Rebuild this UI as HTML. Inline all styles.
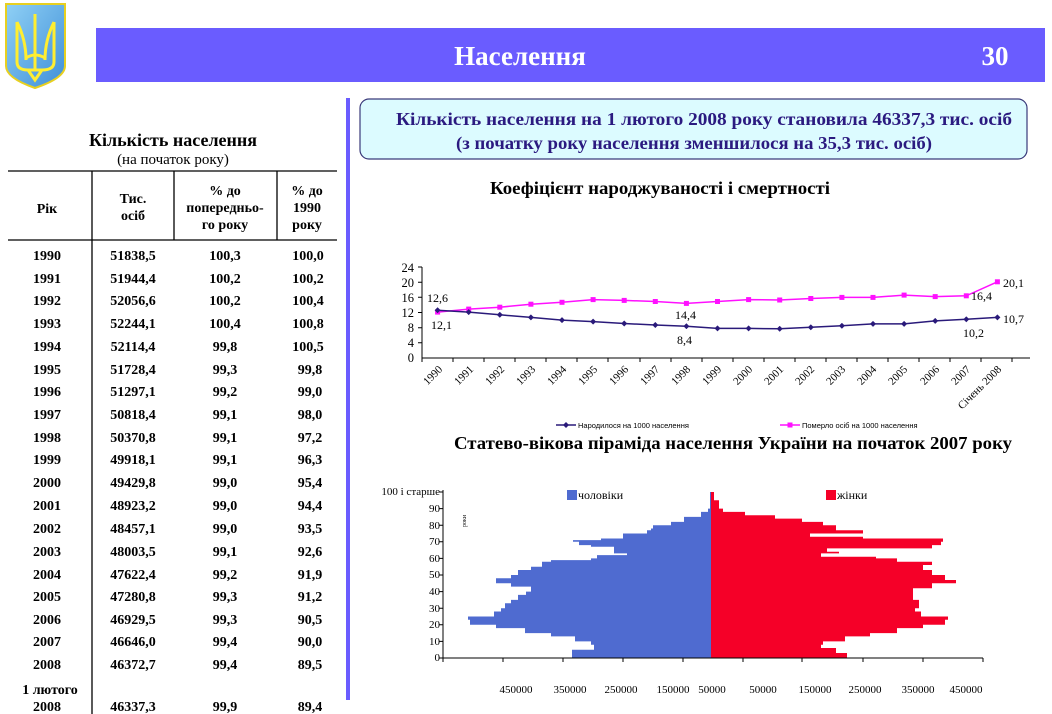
<!DOCTYPE html>
<html><head><meta charset="utf-8"><style>
html,body{margin:0;padding:0;background:#fff}
svg{display:block}
text{font-family:"Liberation Serif",serif}
</style></head><body>
<svg width="1052" height="714" viewBox="0 0 1052 714" xmlns="http://www.w3.org/2000/svg">
<defs>
<linearGradient id="sh" x1="0" y1="0" x2="1" y2="1"><stop offset="0" stop-color="#8fd0f5"/><stop offset="1" stop-color="#3f8fd8"/></linearGradient>
<marker id="md" markerWidth="6" markerHeight="6" refX="3" refY="3" markerUnits="userSpaceOnUse"><path d="M3 0L6 3L3 6L0 3Z" fill="#2a1a7a"/></marker>
<marker id="mp" markerWidth="6" markerHeight="6" refX="3" refY="3" markerUnits="userSpaceOnUse"><rect x="0.5" y="0.5" width="5" height="5" fill="#ff10ff"/></marker>
</defs>
<path d="M6 4H65V66Q65 78 35 88Q6 78 6 66Z" fill="url(#sh)" stroke="#e8d020" stroke-width="2"/>
<g fill="none" stroke="#ffee30" stroke-width="3">
<path d="M35 14V70"/><path d="M17 22V62Q17 70 28 70H42Q54 70 54 62V22"/><path d="M17 22Q26 40 26 60"/><path d="M54 22Q45 40 45 60"/><path d="M28 70L35 80L42 70"/><path d="M26 58Q35 52 45 58"/>
</g>
<rect x="96" y="28" width="949" height="54" fill="#6a5cff"/>
<text x="520" y="65" font-size="27" font-weight="bold" fill="#fff" text-anchor="middle">Населення</text>
<text x="995" y="65" font-size="27" font-weight="bold" fill="#fff" text-anchor="middle">30</text>
<rect x="346" y="98" width="4" height="602" fill="#6a5cff"/>
<text x="173" y="146" font-size="18" font-weight="bold" text-anchor="middle">Кількість населення</text>
<text x="173" y="164" font-size="15" text-anchor="middle">(на початок року)</text>
<g stroke="#000" stroke-width="1.3">
<line x1="8" y1="171" x2="337" y2="171"/><line x1="8" y1="240" x2="337" y2="240"/>
<line x1="92" y1="171" x2="92" y2="714"/><line x1="174" y1="171" x2="174" y2="240"/><line x1="277" y1="171" x2="277" y2="240"/>
</g>
<g font-size="14" font-weight="bold" text-anchor="middle">
<text x="47" y="213">Рік</text>
<text x="133" y="203">Тис.</text><text x="133" y="220">осіб</text>
<text x="225" y="195">% до</text><text x="225" y="212">попередньо-</text><text x="225" y="229">го року</text>
<text x="307" y="195">% до</text><text x="307" y="212">1990</text><text x="307" y="229">року</text>
</g>
<g font-size="14" font-weight="bold" text-anchor="middle">
<text y="260"><tspan x="47">1990</tspan><tspan x="133">51838,5</tspan><tspan x="225">100,3</tspan><tspan x="308">100,0</tspan></text>
<text y="283"><tspan x="47">1991</tspan><tspan x="133">51944,4</tspan><tspan x="225">100,2</tspan><tspan x="308">100,2</tspan></text>
<text y="305"><tspan x="47">1992</tspan><tspan x="133">52056,6</tspan><tspan x="225">100,2</tspan><tspan x="308">100,4</tspan></text>
<text y="328"><tspan x="47">1993</tspan><tspan x="133">52244,1</tspan><tspan x="225">100,4</tspan><tspan x="308">100,8</tspan></text>
<text y="351"><tspan x="47">1994</tspan><tspan x="133">52114,4</tspan><tspan x="225">99,8</tspan><tspan x="308">100,5</tspan></text>
<text y="374"><tspan x="47">1995</tspan><tspan x="133">51728,4</tspan><tspan x="225">99,3</tspan><tspan x="310">99,8</tspan></text>
<text y="396"><tspan x="47">1996</tspan><tspan x="133">51297,1</tspan><tspan x="225">99,2</tspan><tspan x="310">99,0</tspan></text>
<text y="419"><tspan x="47">1997</tspan><tspan x="133">50818,4</tspan><tspan x="225">99,1</tspan><tspan x="310">98,0</tspan></text>
<text y="442"><tspan x="47">1998</tspan><tspan x="133">50370,8</tspan><tspan x="225">99,1</tspan><tspan x="310">97,2</tspan></text>
<text y="464"><tspan x="47">1999</tspan><tspan x="133">49918,1</tspan><tspan x="225">99,1</tspan><tspan x="310">96,3</tspan></text>
<text y="487"><tspan x="47">2000</tspan><tspan x="133">49429,8</tspan><tspan x="225">99,0</tspan><tspan x="310">95,4</tspan></text>
<text y="510"><tspan x="47">2001</tspan><tspan x="133">48923,2</tspan><tspan x="225">99,0</tspan><tspan x="310">94,4</tspan></text>
<text y="533"><tspan x="47">2002</tspan><tspan x="133">48457,1</tspan><tspan x="225">99,0</tspan><tspan x="310">93,5</tspan></text>
<text y="556"><tspan x="47">2003</tspan><tspan x="133">48003,5</tspan><tspan x="225">99,1</tspan><tspan x="310">92,6</tspan></text>
<text y="579"><tspan x="47">2004</tspan><tspan x="133">47622,4</tspan><tspan x="225">99,2</tspan><tspan x="310">91,9</tspan></text>
<text y="601"><tspan x="47">2005</tspan><tspan x="133">47280,8</tspan><tspan x="225">99,3</tspan><tspan x="310">91,2</tspan></text>
<text y="624"><tspan x="47">2006</tspan><tspan x="133">46929,5</tspan><tspan x="225">99,3</tspan><tspan x="310">90,5</tspan></text>
<text y="646"><tspan x="47">2007</tspan><tspan x="133">46646,0</tspan><tspan x="225">99,4</tspan><tspan x="310">90,0</tspan></text>
<text y="669"><tspan x="47">2008</tspan><tspan x="133">46372,7</tspan><tspan x="225">99,4</tspan><tspan x="310">89,5</tspan></text>
<text y="694"><tspan x="50">1 лютого</tspan></text>
<text y="711"><tspan x="47">2008</tspan><tspan x="133">46337,3</tspan><tspan x="225">99,9</tspan><tspan x="310">89,4</tspan></text>
</g>
<rect x="360" y="99" width="667" height="60" rx="9" fill="#dcfbff" stroke="#3a3a7a" stroke-width="1.2"/>
<text x="704" y="125" font-size="18" font-weight="bold" fill="#2b1a80" text-anchor="middle" textLength="616" lengthAdjust="spacingAndGlyphs">Кількість населення на 1 лютого 2008 року становила 46337,3 тис. осіб</text>
<text x="694" y="149" font-size="18" font-weight="bold" fill="#2b1a80" text-anchor="middle" textLength="476" lengthAdjust="spacingAndGlyphs">(з початку року населення зменшилося на 35,3 тис. осіб)</text>
<text x="660" y="194" font-size="18" font-weight="bold" text-anchor="middle" textLength="340" lengthAdjust="spacingAndGlyphs">Коефіцієнт народжуваності і смертності</text>
<g stroke="#000" stroke-width="1">
<line x1="422" y1="267" x2="422" y2="358"/><line x1="422" y1="358" x2="1030" y2="358"/>
<path d="M418 267h4M418 282.2h4M418 297.3h4M418 312.5h4M418 327.7h4M418 342.8h4"/>
<path d="M422 358v4M453 358v4M484 358v4M515 358v4M546 358v4M577 358v4M608 358v4M640 358v4M671 358v4M702 358v4M733 358v4M764 358v4M795 358v4M826 358v4M857 358v4M888 358v4M919 358v4M950 358v4M981 358v4M1012 358v4"/>
</g>
<g font-size="12.5" text-anchor="end">
<text x="414" y="272">24</text><text x="414" y="287">20</text><text x="414" y="302">16</text><text x="414" y="317">12</text><text x="414" y="332">8</text><text x="414" y="347">4</text><text x="414" y="362">0</text>
</g>
<g font-size="11" text-anchor="end">
<text transform="translate(443,370) rotate(-45)">1990</text>
<text transform="translate(474,370) rotate(-45)">1991</text>
<text transform="translate(505,370) rotate(-45)">1992</text>
<text transform="translate(536,370) rotate(-45)">1993</text>
<text transform="translate(567,370) rotate(-45)">1994</text>
<text transform="translate(598,370) rotate(-45)">1995</text>
<text transform="translate(629,370) rotate(-45)">1996</text>
<text transform="translate(660,370) rotate(-45)">1997</text>
<text transform="translate(691,370) rotate(-45)">1998</text>
<text transform="translate(722,370) rotate(-45)">1999</text>
<text transform="translate(753,370) rotate(-45)">2000</text>
<text transform="translate(784,370) rotate(-45)">2001</text>
<text transform="translate(815,370) rotate(-45)">2002</text>
<text transform="translate(846,370) rotate(-45)">2003</text>
<text transform="translate(877,370) rotate(-45)">2004</text>
<text transform="translate(908,370) rotate(-45)">2005</text>
<text transform="translate(940,370) rotate(-45)">2006</text>
<text transform="translate(971,370) rotate(-45)">2007</text>
<text transform="translate(1002,370) rotate(-45)">Січень 2008</text>
</g>
<polyline fill="none" stroke="#ff10ff" stroke-width="1.5" marker-start="url(#mp)" marker-mid="url(#mp)" marker-end="url(#mp)" points="437.6,312.1 468.7,309.1 499.8,307.2 530.9,304.2 562,302.3 593.1,299.6 624.2,300.4 655.3,301.5 686.4,303.4 717.5,301.5 748.6,299.6 779.7,300 810.8,298.5 841.9,297.4 873,297.4 904.1,295.1 935.2,296.6 966.3,295.8 997.4,281.8"/>
<polyline fill="none" stroke="#2a1a7a" stroke-width="1.5" marker-start="url(#md)" marker-mid="url(#md)" marker-end="url(#md)" points="437.6,310.2 468.7,312.1 499.8,314.8 530.9,317.4 562,320.1 593.1,321.6 624.2,323.5 655.3,325 686.4,326.2 717.5,328.4 748.6,328.4 779.7,328.8 810.8,327.3 841.9,325.8 873,323.9 904.1,323.9 935.2,320.9 966.3,319.3 997.4,317.4"/>
<g font-size="12">
<text x="427" y="302">12,6</text><text x="431" y="329">12,1</text>
<text x="675" y="319">14,4</text><text x="677" y="344">8,4</text>
<text x="971" y="300">16,4</text><text x="963" y="337">10,2</text>
<text x="1003" y="287">20,1</text><text x="1003" y="323">10,7</text>
</g>
<line x1="556" y1="425" x2="576" y2="425" stroke="#2a1a7a" stroke-width="1.5"/><path d="M566 422L569 425L566 428L563 425Z" fill="#2a1a7a"/>
<text x="578" y="428" font-size="7.5" style="font-family:'Liberation Sans',sans-serif">Народилося на 1000 населення</text>
<line x1="780" y1="425" x2="800" y2="425" stroke="#ff10ff" stroke-width="1.5"/><rect x="787.5" y="422.5" width="5" height="5" fill="#ff10ff"/>
<text x="802" y="428" font-size="7.5" style="font-family:'Liberation Sans',sans-serif">Померло осіб на 1000 населення</text>
<text x="733" y="449" font-size="18" font-weight="bold" text-anchor="middle" textLength="558" lengthAdjust="spacingAndGlyphs">Статево-вікова піраміда населення України на початок 2007 року</text>
<polygon fill="#4f6bd0" points="711,658 572,658 572,649.7 594,649.7 594,644.7 591,644.7 591,641.4 575,641.4 575,636.4 551,636.4 551,633.1 525,633.1 525,628.1 496,628.1 496,624.8 470,624.8 470,619.8 468,619.8 468,616.5 494,616.5 494,611.5 501,611.5 501,608.2 505,608.2 505,603.2 511,603.2 511,599.9 518,599.9 518,594.9 526,594.9 526,591.6 531,591.6 531,586.6 511,586.6 511,583.3 496,583.3 496,578.3 511,578.3 511,575 518,575 518,570 531,570 531,566.7 542,566.7 542,561.7 551,561.7 551,560.1 591,560.1 591,558.4 597,558.4 597,555.1 627,555.1 627,553.4 614,553.4 614,546.8 591,546.8 591,545.1 579,545.1 579,541.8 573,541.8 573,540.1 601,540.1 601,538.5 623,538.5 623,533.5 647,533.5 647,530.2 651,530.2 651,528.5 653,528.5 653,525.2 671,525.2 671,521.9 684,521.9 684,516.9 701,516.9 701,511.9 708,511.9 708,508.6 710,508.6 710,492 711,492"/>
<polygon fill="#f50028" points="711,658 847,658 847,653 836,653 836,648 821,648 821,644.7 823,644.7 823,641.4 845,641.4 845,636.4 870,636.4 870,633.1 897,633.1 897,628.1 923,628.1 923,624.8 945,624.8 945,619.8 948,619.8 948,616.5 921,616.5 921,611.5 915,611.5 915,608.2 919,608.2 919,599.9 913,599.9 913,588.3 932,588.3 932,583.3 956,583.3 956,580 945,580 945,575 932,575 932,570 923,570 923,565 932,565 932,561.7 897,561.7 897,558.4 876,558.4 876,556.7 821,556.7 821,553.4 839,553.4 839,551.8 827,551.8 827,548.4 932,548.4 932,545.1 941,545.1 941,541.8 943,541.8 943,538.5 863,538.5 863,536.8 810,536.8 810,533.5 863,533.5 863,530.2 836,530.2 836,525.2 823,525.2 823,521.9 802,521.9 802,518.6 775,518.6 775,515.2 745,515.2 745,511.9 723,511.9 723,508.6 719,508.6 719,500.3 714,500.3 714,492 711,492"/>
<g stroke="#000" stroke-width="1">
<line x1="443" y1="490" x2="443" y2="658"/><line x1="443" y1="658" x2="983" y2="658"/>
<path d="M443 658v4M503 658v4M563 658v4M623 658v4M683 658v4M743 658v4M802 658v4M863 658v4M923 658v4M983 658v4"/>
<path d="M439 492h4M439 508.6h4M439 525.2h4M439 541.8h4M439 558.4h4M439 575h4M439 591.6h4M439 608.2h4M439 624.8h4M439 641.4h4M439 658h4"/>
</g>
<g font-size="11" text-anchor="end">
<text x="440" y="495">100 і старше</text><text x="440" y="512">90</text><text x="440" y="529">80</text><text x="440" y="545">70</text><text x="440" y="562">60</text><text x="440" y="578">50</text><text x="440" y="595">40</text><text x="440" y="612">30</text><text x="440" y="628">20</text><text x="440" y="645">10</text><text x="440" y="661">0</text>
</g>
<text transform="translate(466,527) rotate(-90)" font-size="6">роки</text>
<rect x="567" y="490" width="10" height="10" fill="#4f6bd0"/><text x="578" y="499" font-size="12">чоловіки</text>
<rect x="826" y="490" width="10" height="10" fill="#f50028"/><text x="837" y="499" font-size="12">жінки</text>
<g font-size="11" text-anchor="middle">
<text x="516" y="693">450000</text><text x="570" y="693">350000</text><text x="621" y="693">250000</text><text x="673" y="693">150000</text><text x="712" y="693">50000</text><text x="763" y="693">50000</text><text x="815" y="693">150000</text><text x="865" y="693">250000</text><text x="918" y="693">350000</text><text x="966" y="693">450000</text>
</g>
</svg>
</body></html>
